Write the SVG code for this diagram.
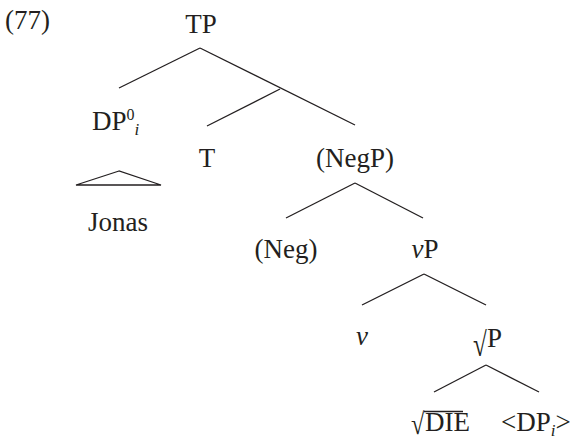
<svg xmlns="http://www.w3.org/2000/svg" width="575" height="439" viewBox="0 0 575 439">
<style>
text{font-family:'Liberation Serif','Times New Roman',serif;font-size:27px;fill:#231f20}
.c{text-anchor:middle}
.it{font-style:italic}
line,polygon{stroke:#231f20;stroke-width:1.3;fill:none}
</style>
<rect width="575" height="439" fill="#fff"/>
<text x="5" y="29">(77)</text>
<g id="connectors">
<line x1="200" y1="48" x2="119" y2="88"/>
<line x1="200" y1="48" x2="355" y2="125"/>
<line x1="280" y1="89" x2="207" y2="126"/>
<line x1="355" y1="183" x2="286" y2="218"/>
<line x1="355" y1="183" x2="423" y2="218"/>
<line x1="424" y1="274" x2="362" y2="305"/>
<line x1="424" y1="274" x2="486" y2="305"/>
<line x1="486" y1="365" x2="434" y2="392"/>
<line x1="486" y1="365" x2="539" y2="392"/>
</g>
<g id="TP"><text class="c" x="201" y="33">TP</text></g>
<g id="DP"><text x="92" y="130">DP<tspan font-size="16" dy="-10">0</tspan><tspan class="it" font-size="17" dy="15">i</tspan></text></g>
<g id="Jonas"><polygon points="119,171 76,185 161,185" stroke-width="1.5"/><text class="c" x="118" y="231">Jonas</text></g>
<g id="T"><text class="c" x="207" y="167">T</text></g>
<g id="NegP"><text class="c" x="355" y="167">(NegP)</text></g>
<g id="Neg"><text class="c" x="286" y="258">(Neg)</text></g>
<g id="vP"><text class="c" x="425" y="258"><tspan class="it">v</tspan>P</text></g>
<g id="v"><text class="c it" x="362" y="345">v</text></g>
<g id="rootP"><text transform="translate(473,356) scale(0.93,1.25)">√</text><text x="487" y="347">P</text></g>
<g id="rootDIE"><text transform="translate(411,434) scale(0.9,1.11)">√</text><line x1="424" y1="411.5" x2="463" y2="411.5" stroke-width="1.2"/><text x="425" y="431" font-size="22">DIE</text></g>
<g id="DPi"><text x="501" y="431">&lt;DP<tspan class="it" font-size="17" dy="5">i</tspan><tspan dy="-5">&gt;</tspan></text></g>
</svg>
